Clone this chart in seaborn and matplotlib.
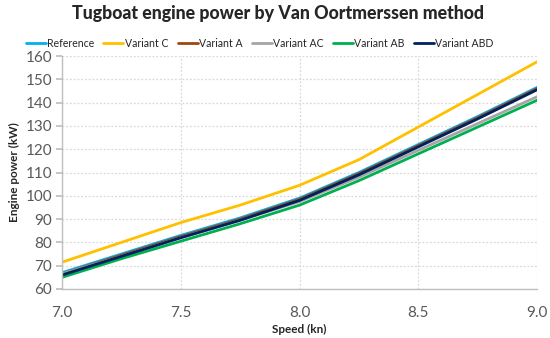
import pandas as pd
import matplotlib.pyplot as plt
import seaborn as sns

# data
speed = [7.0, 7.25, 7.5, 7.75, 8.0, 8.25, 8.5, 8.75, 9.0]
reference = [67, 75, 83, 90.5, 99, 110, 122, 134, 146.5]
variant_c = [71.5, 80, 88.5, 96, 104.5, 115.5, 129.5, 143.5, 157.5]
variant_a = [66.5, 74.5, 82.5, 90, 98.5, 109.5, 121.5, 133.5, 146]
variant_ac = [66.5, 74, 82, 89.5, 97.5, 108, 119.5, 131, 142.5]
variant_ab = [65, 73, 80.5, 88, 96, 106.5, 118, 129.5, 141]
variant_abd = [66, 74, 82, 89.5, 98, 109, 121, 133, 145.5]

series = {
    "Reference": reference,
    "Variant C": variant_c,
    "Variant A": variant_a,
    "Variant AC": variant_ac,
    "Variant AB": variant_ab,
    "Variant ABD": variant_abd,
}
colors = {
    "Reference": "#00B0F0",
    "Variant C": "#FFC000",
    "Variant A": "#9E480E",
    "Variant AC": "#A5A5A5",
    "Variant AB": "#00B050",
    "Variant ABD": "#002060",
}

rows = []
for name, vals in series.items():
    for s, v in zip(speed, vals):
        rows.append({"speed": s, "power": v, "variant": name})
df = pd.DataFrame(rows)

sns.set_theme(style="whitegrid")
plt.rcParams["font.family"] = ["Lato", "DejaVu Sans"]

fig = plt.figure(figsize=(5.5, 3.38), dpi=100)
ax = fig.add_axes([62 / 550, 1 - 289 / 338, 475 / 550, 233 / 338])

sns.lineplot(data=df, x="speed", y="power", hue="variant",
             hue_order=list(series.keys()), palette=colors,
             linewidth=2, ax=ax)

ax.set_xlim(7.0, 9.0)
ax.set_ylim(60, 160)
ax.set_xticks([7.0, 7.5, 8.0, 8.5, 9.0])
ax.set_xticklabels(["7.0", "7.5", "8.0", "8.5", "9.0"])
ax.set_yticks(range(60, 161, 10))
ax.tick_params(axis="both", labelsize=11, colors="#595959", pad=3)
ax.tick_params(axis="y", length=4, left=True, color="#BFBFBF")
ax.tick_params(axis="x", length=0, pad=12)
ax.grid(True, color="#D9D9D9", linestyle=(0, (1.5, 1.5)), linewidth=0.9)
for side in ["top", "right"]:
    ax.spines[side].set_visible(False)
for side in ["left", "bottom"]:
    ax.spines[side].set_visible(True)
    ax.spines[side].set_color("#BFBFBF")
    ax.spines[side].set_linewidth(1)

ax.set_xlabel("Speed (kn)", fontsize=8.5, fontweight="bold", labelpad=3)
ax.set_ylabel("Engine power (kW)", fontsize=8.5, fontweight="bold", labelpad=4)

fig.suptitle("Tugboat engine power by Van Oortmerssen method",
             x=0.505, y=0.985, fontsize=12.8, fontweight="black")

ax.legend(loc="lower center", bbox_to_anchor=(0.5 - 40 / 475, 1.0), ncol=6,
          frameon=False, fontsize=7.6, handlelength=1.9, handletextpad=0.1,
          columnspacing=0.9, borderaxespad=0.3)

fig.savefig("out.png", dpi=100)
